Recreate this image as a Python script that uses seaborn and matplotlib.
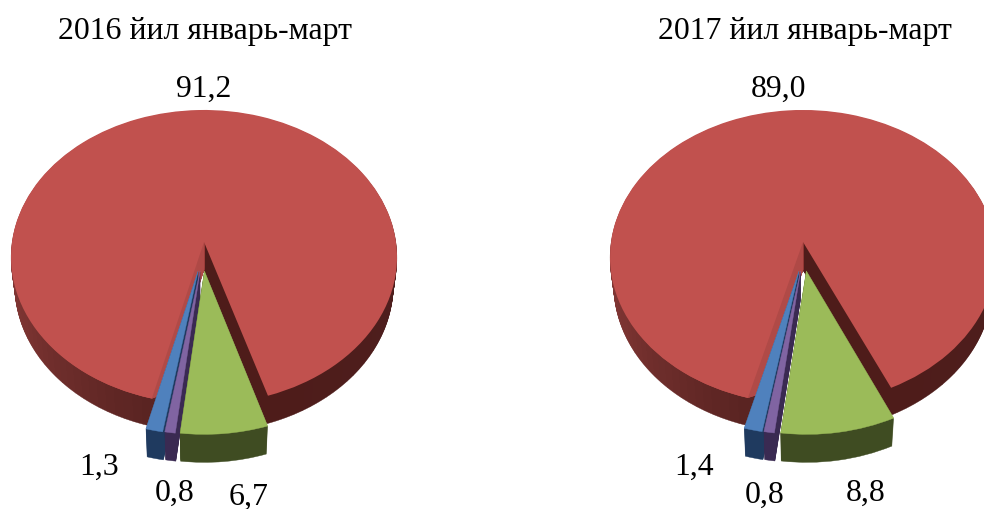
import numpy as np
import matplotlib
matplotlib.use("Agg")
import matplotlib.pyplot as plt
from matplotlib.transforms import Affine2D, Transform
import seaborn as sns

titles = ["2016 йил январь-март", "2017 йил январь-март"]
# order going clockwise: green, purple, blue, red
values_2016 = [6.7, 0.8, 1.3, 91.2]
values_2017 = [8.8, 0.8, 1.4, 89.0]
labels_2016 = ["6,7", "0,8", "1,3", "91,2"]
labels_2017 = ["8,8", "0,8", "1,4", "89,0"]

top_colors = ["#9BBB59", "#8064A2", "#4F81BD", "#C1514E"]
wall_colors = ["#3F4C22", "#3A2A52", "#1F3A5F"]
red_wall = ["#5A2422", "#7A3331", "#903C3A", "#6A2B29", "#4E1E1D", "#4E1E1D", "#4E1E1D", "#4E1C1A"]

W, H = 984, 510
DEPTH = 28
P = 0.102
Q = 145.5
SX = 192.0
APEX_Y = 243
SHRINK = 0.0007


class Tilt(Transform):
    # flat plane to screen, far side smaller
    input_dims = 2
    output_dims = 2

    def transform_non_affine(self, values):
        values = np.asarray(values, dtype=float)
        d = 1 + P * values[:, 1]
        return np.column_stack([values[:, 0] / d, Q * values[:, 1] / d])


def plane(ax, cx, k=0, off=(0, 0)):
    return (Affine2D().translate(*off) + Tilt()
            + Affine2D().scale(SX * (1 - SHRINK * k), 1).translate(cx, H - APEX_Y - k) + ax.transData)


def paint(w, c, lw=0.3):
    w.set_facecolor(c)
    w.set_edgecolor(c)
    w.set_linewidth(lw)


def draw_pie(ax, values, start, cx, offsets):
    # red part: outer wall, lighter wall inside the notch, then the top
    n = 120
    vals = list(values[:3]) + [values[3] / n] * n
    shades = sns.blend_palette(red_wall, n)
    for k in range(DEPTH, 0, -1):
        wedges = ax.pie(vals, startangle=start, counterclock=False, radius=1)[0]
        for i, w in enumerate(wedges):
            w.set_transform(plane(ax, cx, k))
            w.set_visible(i >= 3)
            if i >= 3:
                paint(w, shades[i - 3])
    # radius drops with depth so this stays behind the outer rim
    for k in range(DEPTH, 0, -1):
        wedges = ax.pie(vals, startangle=start, counterclock=False, radius=1 - k / 150)[0]
        for i, w in enumerate(wedges):
            w.set_transform(plane(ax, cx, k))
            w.set_visible(3 <= i < 3 + n // 2)
            if i >= 3:
                paint(w, "#B04A47")
    wedges = ax.pie(values, startangle=start, counterclock=False, radius=1)[0]
    for i, w in enumerate(wedges):
        w.set_transform(plane(ax, cx))
        w.set_visible(i == 3)
        paint(w, top_colors[3], lw=0)

    # small slices pulled out toward the viewer, blue first so purple and green sit on top
    for idx in [2, 1, 0]:
        for k in range(DEPTH, -1, -1):
            wedges = ax.pie(values, startangle=start, counterclock=False, radius=0.97)[0]
            for i, w in enumerate(wedges):
                w.set_transform(plane(ax, cx, k, offsets[idx]))
                w.set_visible(i == idx)
                paint(w, top_colors[idx] if k == 0 else wall_colors[idx])


sns.set_theme(style="white")
plt.rcParams["font.family"] = ["Liberation Serif", "DejaVu Serif"]

fig = plt.figure(figsize=(W / 100, H / 100), dpi=100)
ax = fig.add_axes([0, 0, 1, 1])

draw_pie(ax, values_2016, 287.5, 204, [(0.002, -0.195), (-0.02, -0.195), (-0.03, -0.195)])
draw_pie(ax, values_2017, 294.6, 803, [(0.017, -0.195), (-0.012, -0.195), (-0.02, -0.195)])

ax.set_aspect("auto")
ax.set_xlim(0, W)
ax.set_ylim(0, H)
ax.axis("off")

fs = 22.9
ax.text(204.5, H - 32, titles[0], ha="center", va="center", fontsize=fs, color="black")
ax.text(804.5, H - 32, titles[1], ha="center", va="center", fontsize=fs, color="black")

pos_2016 = [(249, 497), (175, 493), (99, 467), (204, 89)]
pos_2017 = [(866, 493), (765, 495), (694, 467), (778, 89)]
for lab, (x, y) in zip(labels_2016, pos_2016):
    ax.text(x, H - y, lab, ha="center", va="center", fontsize=fs, color="black")
for lab, (x, y) in zip(labels_2017, pos_2017):
    ax.text(x, H - y, lab, ha="center", va="center", fontsize=fs, color="black")

fig.savefig("out.png", dpi=100)
